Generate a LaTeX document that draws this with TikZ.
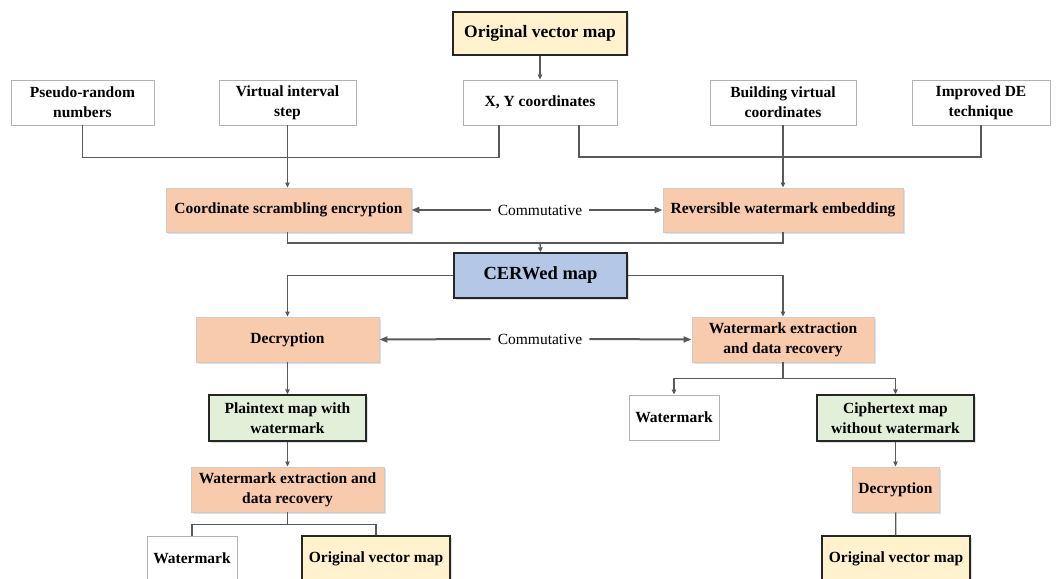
\documentclass[tikz,border=0pt]{standalone}
\usepackage{fontspec}
\setmainfont{Liberation Serif}
\usetikzlibrary{arrows.meta,shadows}
\definecolor{boxyellow}{HTML}{FFF2CC}
\definecolor{boxorange}{HTML}{F8CBAD}
\definecolor{boxblue}{HTML}{B4C7E7}
\definecolor{boxgreen}{HTML}{E2F0D9}
\definecolor{linegray}{HTML}{595959}
\tikzset{
  box/.style={draw, align=center, inner sep=2pt,
    font=\fontsize{15.5}{20}\selectfont\bfseries},
  inbox/.style={box, draw=black!30, line width=0.9pt, fill=white},
  mapbox/.style={box, draw=black!85, line width=1.4pt,
    drop shadow={shadow xshift=1.5pt, shadow yshift=-1.5pt, opacity=0.25}},
  stepbox/.style={box, draw=black!20, line width=0.9pt, fill=boxorange,
    drop shadow={shadow xshift=2pt, shadow yshift=-2pt, opacity=0.25}},
  comm/.style={inner sep=7pt, font=\fontsize{15.5}{20}\selectfont},
  link/.style={draw=linegray, line width=1.3pt},
  tip/.style={-{Triangle[length=5pt,width=4.5pt]}},
  bothtip/.style={{Triangle[length=5pt,width=4.5pt]}-{Triangle[length=5pt,width=4.5pt]}},
  wide/.style={line width=2pt, -{Triangle[length=8pt,width=6pt]}}
}
\begin{document}
\begin{tikzpicture}[x=1pt,y=-1pt]
  \useasboundingbox (0,0) rectangle (1062,578);
  % inputs
  \node[mapbox, fill=boxyellow, minimum width=174pt, minimum height=43pt,
    font=\fontsize{17.5}{21}\selectfont\bfseries] (orig) at (540,33.5) {Original vector map};
  \node[inbox, minimum width=143pt, minimum height=45pt] (prn) at (82.5,102.5) {Pseudo-random\\numbers};
  \node[inbox, minimum width=137pt, minimum height=45pt] (vis) at (287.5,102.5) {Virtual interval\\step};
  \node[inbox, minimum width=154pt, minimum height=45pt] (xy) at (540,102.5) {X, Y coordinates};
  \node[inbox, minimum width=146pt, minimum height=45pt] (bvc) at (783,102.5) {Building virtual\\coordinates};
  \node[inbox, minimum width=138pt, minimum height=45pt] (ide) at (981,102.5) {Improved DE\\technique};
  \coordinate (xyL) at (499,125);
  \coordinate (xyR) at (579,125);
  % encryption and embedding
  \node[stepbox, minimum width=245pt, minimum height=44pt] (cse) at (288.5,210) {Coordinate scrambling encryption};
  \node[stepbox, minimum width=240pt, minimum height=44pt] (rwe) at (783,210) {Reversible watermark embedding};
  \node[comm] (com1) at (540,210) {Commutative};
  \coordinate (mrg) at (540,243);
  \node[mapbox, fill=boxblue, minimum width=173pt, minimum height=45pt,
    font=\fontsize{18.5}{22}\selectfont\bfseries] (cer) at (540.5,275.5) {CERWed map};
  % left branch
  \node[stepbox, minimum width=183pt, minimum height=45pt] (dec) at (287.5,339.5) {Decryption};
  \node[comm] (com2) at (540,339) {Commutative};
  \node[mapbox, fill=boxgreen, minimum width=157pt, minimum height=46pt] (ptm) at (287.5,418) {Plaintext map with\\watermark};
  \node[stepbox, minimum width=193pt, minimum height=45pt] (wml) at (287.5,489.5) {Watermark extraction and\\data recovery};
  \node[inbox, minimum width=90pt, minimum height=45pt] (wm1) at (192,558.5) {Watermark};
  \node[mapbox, fill=boxyellow, minimum width=148pt, minimum height=45pt] (ovm1) at (376,558.5) {Original vector map};
  % right branch
  \node[stepbox, minimum width=182pt, minimum height=45pt] (wer) at (783,339.5) {Watermark extraction\\and data recovery};
  \node[inbox, minimum width=90pt, minimum height=45pt] (wm2) at (674,417.5) {Watermark};
  \node[mapbox, fill=boxgreen, minimum width=157pt, minimum height=46pt] (ctm) at (895.5,418) {Ciphertext map\\without watermark};
  \node[stepbox, minimum width=87pt, minimum height=45pt] (dec2) at (895.5,489.5) {Decryption};
  \node[mapbox, fill=boxyellow, minimum width=148pt, minimum height=45pt] (ovm2) at (896,558.5) {Original vector map};
  \begin{scope}[link]
    \draw[tip] (orig) -- (xy);
    \draw (prn.south) -- ++(0,32) -| (xyL);
    \draw[tip] (vis.south) -- (vis.south |- cse.north);
    \draw (xyR) -- ++(0,32) -| (ide.south);
    \draw[tip] (bvc.south) -- (rwe.north);
    \draw[wide] (com1.west) -- (cse.east);
    \draw[wide] (com1.east) -- (rwe.west);
    \draw (vis.south |- cse.south) |- (mrg) -| (rwe.south);
    \draw[tip] (mrg) -- (cer.north);
    \draw[tip] (cer.west) -| (dec.north);
    \draw[tip] (cer.east) -| (wer.north);
    \draw[wide] (com2.west) -- (dec.east);
    \draw[wide] (com2.east) -- (wer.west);
    \draw[tip] (dec) -- (ptm);
    \draw[tip] (ptm) -- (wml);
    \draw (wml.south) -- ++(0,12) coordinate (sp1);
    \draw (wm1.north) |- (sp1) -| (ovm1.north);
    \draw (wer.south) -- ++(0,16) coordinate (sp2);
    \draw[bothtip] (wm2.north) |- (sp2) -| (ctm.north);
    \draw[tip] (ctm) -- (dec2);
    \draw (dec2) -- (ovm2);
  \end{scope}
\end{tikzpicture}
\end{document}
